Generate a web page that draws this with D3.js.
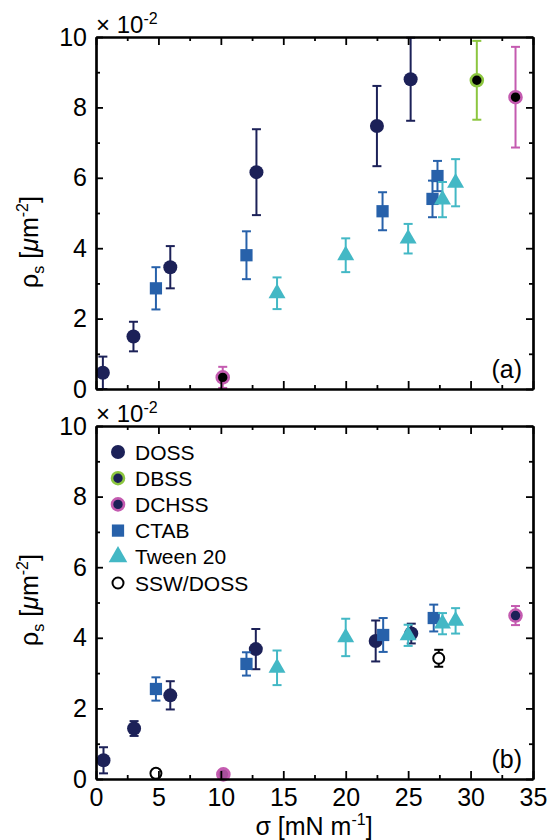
<!DOCTYPE html>
<html>
<head>
<meta charset="utf-8">
<script src="https://cdn.jsdelivr.net/npm/d3@7"></script>
<style>
  body { margin: 0; background: #fff; }
  text { font-family: "Liberation Sans", Arial, sans-serif; fill: #000; }
</style>
</head>
<body>
<script>
var width = 549;
var height = 840;

// values in units of 1e-2 um^-2; each row = [sigma, rho, error]
var dossA  = [[0.55, 0.46, 0.46], [3.0, 1.49, 0.42], [5.95, 3.46, 0.6], [12.85, 6.16, 1.22], [22.5, 7.47, 1.14], [25.2, 8.8, 1.18]];
var dbssA  = [[30.5, 8.77, 1.12]];
var dchssA = [[10.15, 0.33, 0.3], [33.6, 8.29, 1.43]];
var ctabA  = [[4.8, 2.86, 0.6], [12.05, 3.8, 0.68], [22.95, 5.05, 0.54], [26.95, 5.4, 0.52], [27.35, 6.05, 0.43]];
var tweenA = [[14.5, 2.72, 0.45], [20.0, 3.8, 0.48], [25.0, 4.27, 0.42], [27.75, 5.38, 0.5], [28.8, 5.86, 0.67]];
var sswA   = [];

var dossB  = [[0.6, 0.53, 0.37], [3.05, 1.43, 0.21], [5.95, 2.37, 0.4], [12.8, 3.68, 0.57], [22.4, 3.91, 0.58], [25.25, 4.12, 0.28]];
var dbssB  = [];
var dchssB = [[10.2, 0.13, 0.1], [33.6, 4.63, 0.27]];
var ctabB  = [[4.8, 2.55, 0.33], [12.05, 3.26, 0.33], [23.0, 4.08, 0.48], [27.05, 4.56, 0.38]];
var tweenB = [[14.5, 3.15, 0.49], [20.0, 4.01, 0.53], [25.0, 4.07, 0.3], [27.75, 4.4, 0.3], [28.8, 4.48, 0.36]];
var sswB   = [[4.8, 0.16, 0.1], [27.45, 3.42, 0.24]];

var legendNames = ["DOSS", "DBSS", "DCHSS", "CTAB", "Tween 20", "SSW/DOSS"];
var yMajor = [0, 2, 4, 6, 8, 10];
var yMinor = [1, 3, 5, 7, 9];
var xMajor = [0, 5, 10, 15, 20, 25, 30, 35];
var xMinor = [2.5, 7.5, 12.5, 17.5, 22.5, 27.5, 32.5];

var navy = "#1c2158", blue = "#2761aa", cyan = "#43b8c5", green = "#8cc63f", magenta = "#c45bb0";

var svg = d3.select("body").append("svg").attr("width", width).attr("height", height);

var x = d3.scaleLinear().domain([0, 35]).range([96, 533]);

var panels = [
  {y: d3.scaleLinear().domain([0, 10]).range([389, 37]), tag: "(a)", xlabels: false, ylabelY: 242, innerFill: "#000",
   data: {doss: dossA, dbss: dbssA, dchss: dchssA, ctab: ctabA, tween: tweenA, ssw: sswA}},
  {y: d3.scaleLinear().domain([0, 10]).range([779, 426]), tag: "(b)", xlabels: true, ylabelY: 600, innerFill: navy,
   data: {doss: dossB, dbss: dbssB, dchss: dchssB, ctab: ctabB, tween: tweenB, ssw: sswB}}
];

var styles = {
  doss:  {shape: "circle", color: navy},
  dbss:  {shape: "ring", color: green},
  dchss: {shape: "ring", color: magenta},
  ctab:  {shape: "square", color: blue},
  tween: {shape: "triangle", color: cyan},
  ssw:   {shape: "open", color: "#000"}
};

var drawMarker = function(g, shape, color, cx, cy, inner, big) {
  if (shape === "circle") {
    g.append("circle").attr("cx", cx).attr("cy", cy).attr("r", 7).attr("fill", color);
  } else if (shape === "ring") {
    g.append("circle").attr("cx", cx).attr("cy", cy).attr("r", 6)
      .attr("fill", inner).attr("stroke", color).attr("stroke-width", 2.6);
  } else if (shape === "square") {
    g.append("path").attr("transform", "translate(" + cx + "," + cy + ")")
      .attr("d", d3.symbol().type(d3.symbolSquare).size(150)()).attr("fill", color);
  } else if (shape === "triangle") {
    g.append("path").attr("transform", "translate(" + cx + "," + cy + ")")
      .attr("d", d3.symbol().type(d3.symbolTriangle).size(big ? 150 : 125)()).attr("fill", color);
  } else {
    g.append("circle").attr("cx", cx).attr("cy", cy).attr("r", 5.5)
      .attr("fill", "#fff").attr("stroke", color).attr("stroke-width", 2);
  }
};

panels.forEach(function(p) {
  var y = p.y;
  var top = y.range()[1], bottom = y.range()[0];
  var g = svg.append("g");

  // error bars + markers
  Object.keys(styles).forEach(function(key) {
    var st = styles[key];
    p.data[key].forEach(function(d) {
      var hi = Math.min(d[1] + d[2], 10), lo = Math.max(d[1] - d[2], 0);
      var cx = x(d[0]);
      g.append("line").attr("x1", cx).attr("x2", cx).attr("y1", y(hi)).attr("y2", y(lo))
        .attr("stroke", st.color).attr("stroke-width", 2);
      [hi, lo].forEach(function(v) {
        g.append("line").attr("x1", cx - 4.5).attr("x2", cx + 4.5).attr("y1", y(v)).attr("y2", y(v))
          .attr("stroke", st.color).attr("stroke-width", 2);
      });
      var fill = p.innerFill;
      if (key === "dchss" && d[1] < 0.2) fill = "#a8509c";
      drawMarker(g, st.shape, st.color, cx, y(d[1]), fill, false);
    });
  });

  // axes: major + minor ticks inside on all four sides
  var ax = svg.append("g").attr("class", "axes");
  ax.append("g").attr("transform", "translate(96,0)")
    .call(d3.axisLeft(y).tickValues(yMajor).tickSizeInner(-7).tickSizeOuter(0).tickPadding(9));
  ax.append("g").attr("transform", "translate(96,0)")
    .call(d3.axisLeft(y).tickValues(yMinor).tickSizeInner(-4).tickSizeOuter(0).tickFormat(""));
  ax.append("g").attr("transform", "translate(533,0)")
    .call(d3.axisRight(y).tickValues(yMajor).tickSizeInner(-7).tickSizeOuter(0).tickFormat(""));
  ax.append("g").attr("transform", "translate(533,0)")
    .call(d3.axisRight(y).tickValues(yMinor).tickSizeInner(-4).tickSizeOuter(0).tickFormat(""));
  ax.append("g").attr("transform", "translate(0," + bottom + ")")
    .call(d3.axisBottom(x).tickValues(xMajor).tickSizeInner(-8).tickSizeOuter(0).tickPadding(9)
      .tickFormat(p.xlabels ? d3.format("d") : ""));
  ax.append("g").attr("transform", "translate(0," + bottom + ")")
    .call(d3.axisBottom(x).tickValues(xMinor).tickSizeInner(-4).tickSizeOuter(0).tickFormat(""));
  ax.append("g").attr("transform", "translate(0," + top + ")")
    .call(d3.axisTop(x).tickValues(xMajor).tickSizeInner(-8).tickSizeOuter(0).tickFormat(""));
  ax.append("g").attr("transform", "translate(0," + top + ")")
    .call(d3.axisTop(x).tickValues(xMinor).tickSizeInner(-4).tickSizeOuter(0).tickFormat(""));
  ax.selectAll(".domain").attr("stroke", "#000").attr("stroke-width", 2.2);
  ax.selectAll(".tick line").attr("stroke", "#000").attr("stroke-width", 1.8);
  ax.selectAll(".tick text").attr("font-size", 25).attr("font-family", "'Liberation Sans', Arial, sans-serif");

  // multiplier
  var m = svg.append("text").attr("x", 96).attr("y", top - 4).attr("font-size", 24);
  m.append("tspan").text("\u00d7 10");
  m.append("tspan").attr("font-size", 16).attr("dy", -9).text("-2");

  // panel tag
  svg.append("text").attr("x", 522).attr("y", bottom - 11).attr("text-anchor", "end")
    .attr("font-size", 25).text(p.tag);

  // y label
  var yl = svg.append("text").attr("transform", "translate(38," + p.ylabelY + ") rotate(-90)")
    .attr("text-anchor", "middle").attr("font-size", 25);
  yl.append("tspan").text("\u03c1");
  yl.append("tspan").attr("font-size", 16).attr("dy", 6).text("s");
  yl.append("tspan").attr("dy", -6).text(" [");
  yl.append("tspan").attr("font-style", "italic").text("\u03bc");
  yl.append("tspan").text("m");
  yl.append("tspan").attr("font-size", 16).attr("dy", -10).text("-2");
  yl.append("tspan").attr("dy", 10).text("]");
});

// x label
var xl = svg.append("text").attr("x", 314).attr("y", 835).attr("text-anchor", "middle").attr("font-size", 25);
xl.append("tspan").text("\u03c3 [mN m");
xl.append("tspan").attr("font-size", 16).attr("dy", -10).text("-1");
xl.append("tspan").attr("dy", 10).text("]");

// legend in panel (b)
var legendKeys = ["doss", "dbss", "dchss", "ctab", "tween", "ssw"];
var lg = svg.append("g");
legendKeys.forEach(function(k, i) {
  var ly = 452 + i * 26.2;
  drawMarker(lg, styles[k].shape, styles[k].color, 118, ly, navy, true);
  lg.append("text").attr("x", 135).attr("y", ly + 7.5).attr("font-size", 21).text(legendNames[i]);
});
</script>
</body>
</html>
